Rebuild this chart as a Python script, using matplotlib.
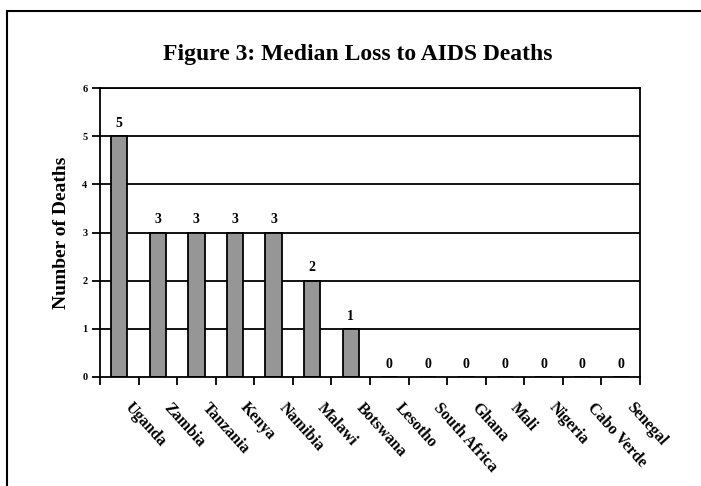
import numpy as np
import matplotlib.pyplot as plt
from matplotlib.patches import Rectangle

# data
countries = ['Uganda', 'Zambia', 'Tanzania', 'Kenya', 'Namibia', 'Malawi',
             'Botswana', 'Lesotho', 'South Africa', 'Ghana', 'Mali',
             'Nigeria', 'Cabo Verde', 'Senegal']
deaths = [5, 3, 3, 3, 3, 2, 1, 0, 0, 0, 0, 0, 0, 0]
yticks = [0, 1, 2, 3, 4, 5, 6]

plt.rcParams['font.family'] = ['Liberation Serif', 'DejaVu Serif']
plt.rcParams['font.weight'] = 'bold'

fig = plt.figure(figsize=(7.01, 4.86), dpi=100)
W, H = 701, 486
ax = fig.add_axes([100 / W, 1 - 377 / H, 540 / W, 289 / H])

x = np.arange(len(countries))
for y in yticks[1:]:
    ax.axhline(y, color='black', lw=1.3, zorder=0)
ax.bar(x, deaths, width=0.42, color='#969696', edgecolor='black', lw=1.3, zorder=2)

for xi, d in zip(x, deaths):
    ax.text(xi, d + 0.13, str(d), ha='center', va='bottom', fontsize=10,
            fontweight='bold')

ax.set_xlim(-0.5, len(countries) - 0.5)
ax.set_ylim(0, 6)
ax.set_yticks(yticks)
ax.set_yticklabels([str(t) for t in yticks], fontsize=7.5, fontweight='bold')
ax.tick_params(axis='y', direction='out', length=6, width=1.3, pad=3)

ax.set_xticks(np.arange(len(countries) + 1) - 0.5)
ax.set_xticklabels([])
ax.tick_params(axis='x', direction='out', length=6, width=1.3)
for xi, name in zip(x, countries):
    ax.text(xi + 0.36, -0.47, name, rotation=-48, rotation_mode='anchor',
            ha='left', va='top', fontsize=11.5, fontweight='bold')

for s in ax.spines.values():
    s.set_linewidth(1.3)
    s.set_color('black')

ax.set_ylabel('Number of Deaths', fontsize=14, fontweight='bold')
ax.yaxis.set_label_coords(-0.056, 0.5)
fig.text(358 / W, 1 - 60 / H, 'Figure 3: Median Loss to AIDS Deaths',
         ha='center', va='baseline', fontsize=17, fontweight='bold')

# outer chart border
fig.patches.append(Rectangle((7 / W, -0.05), 1.0, 1 - 11 / H + 0.05,
                             transform=fig.transFigure, fill=False,
                             edgecolor='black', lw=1.5))

fig.savefig('out.png', dpi=100)
